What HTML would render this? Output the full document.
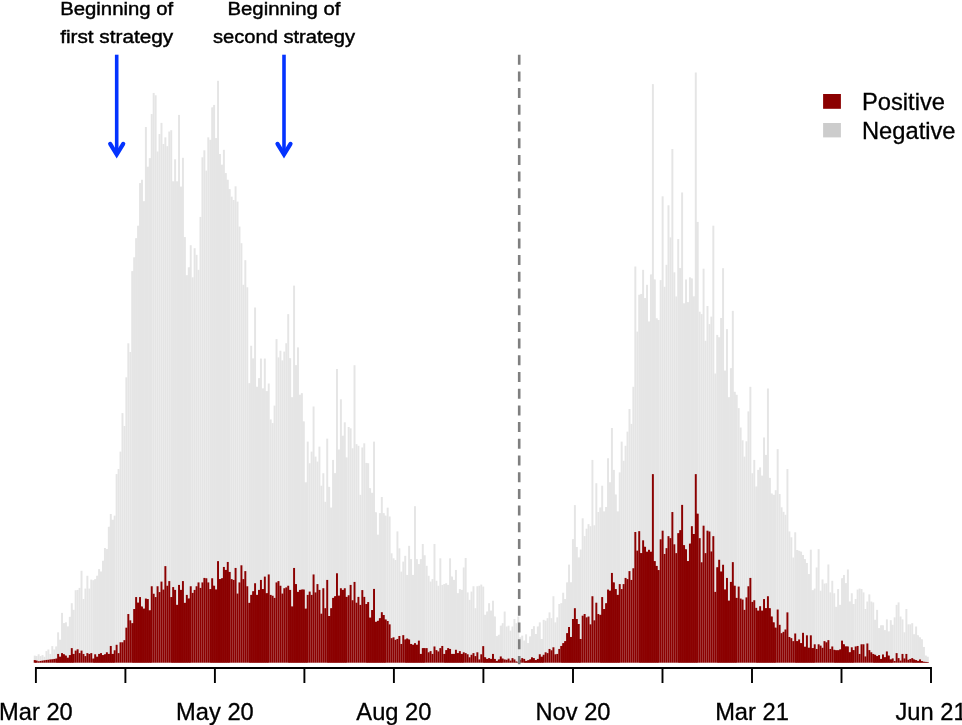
<!DOCTYPE html>
<html><head><meta charset="utf-8"><title>Positive and negative tests over time</title>
<style>
html,body{margin:0;padding:0;background:#fff;}
body{width:962px;height:725px;overflow:hidden;}
svg{display:block;}
text{font-family:"Liberation Sans",sans-serif;fill:#000;}
.ax{font-size:23.7px;stroke:#000;stroke-width:0.3px;}
.an{font-size:19.1px;stroke:#000;stroke-width:0.45px;}
</style></head><body>
<svg width="962" height="725" viewBox="0 0 962 725">
<rect width="962" height="725" fill="#fff"/>
<g fill="#e5e5e5" ><rect x="33.75" y="655.60" width="1.95" height="7.10"/><rect x="35.70" y="656.10" width="1.95" height="6.60"/><rect x="37.65" y="654.27" width="1.95" height="8.43"/><rect x="39.60" y="656.10" width="1.95" height="6.60"/><rect x="41.55" y="655.10" width="1.95" height="7.60"/><rect x="43.50" y="656.77" width="1.95" height="5.93"/><rect x="45.45" y="651.11" width="1.95" height="11.59"/><rect x="47.40" y="649.45" width="1.95" height="13.25"/><rect x="49.35" y="653.94" width="1.95" height="8.76"/><rect x="51.30" y="646.12" width="1.95" height="16.58"/><rect x="53.25" y="649.45" width="1.95" height="13.25"/><rect x="55.20" y="646.46" width="1.95" height="16.24"/><rect x="57.15" y="632.32" width="1.95" height="30.38"/><rect x="59.10" y="639.80" width="1.95" height="22.90"/><rect x="61.05" y="612.86" width="1.95" height="49.84"/><rect x="63.00" y="623.17" width="1.95" height="39.53"/><rect x="64.95" y="622.34" width="1.95" height="40.36"/><rect x="66.90" y="626.50" width="1.95" height="36.20"/><rect x="68.85" y="616.85" width="1.95" height="45.85"/><rect x="70.80" y="603.21" width="1.95" height="59.49"/><rect x="72.75" y="609.86" width="1.95" height="52.84"/><rect x="74.70" y="590.24" width="1.95" height="72.46"/><rect x="76.65" y="589.91" width="1.95" height="72.79"/><rect x="78.60" y="587.91" width="1.95" height="74.79"/><rect x="80.55" y="570.78" width="1.95" height="91.92"/><rect x="82.50" y="599.05" width="1.95" height="63.65"/><rect x="84.45" y="588.58" width="1.95" height="74.12"/><rect x="86.40" y="575.77" width="1.95" height="86.93"/><rect x="88.35" y="588.58" width="1.95" height="74.12"/><rect x="90.30" y="579.59" width="1.95" height="83.11"/><rect x="92.25" y="580.26" width="1.95" height="82.44"/><rect x="94.20" y="579.10" width="1.95" height="83.60"/><rect x="96.15" y="575.77" width="1.95" height="86.93"/><rect x="98.10" y="569.12" width="1.95" height="93.58"/><rect x="100.05" y="571.61" width="1.95" height="91.09"/><rect x="102.00" y="560.80" width="1.95" height="101.90"/><rect x="103.95" y="547.99" width="1.95" height="114.71"/><rect x="105.90" y="549.16" width="1.95" height="113.54"/><rect x="107.85" y="526.79" width="1.95" height="135.91"/><rect x="109.80" y="513.98" width="1.95" height="148.72"/><rect x="111.75" y="519.80" width="1.95" height="142.90"/><rect x="113.70" y="515.64" width="1.95" height="147.06"/><rect x="115.65" y="474.06" width="1.95" height="188.64"/><rect x="117.60" y="469.07" width="1.95" height="193.63"/><rect x="119.55" y="451.61" width="1.95" height="211.09"/><rect x="121.50" y="413.10" width="1.95" height="249.60"/><rect x="123.45" y="426.00" width="1.95" height="236.70"/><rect x="125.40" y="377.30" width="1.95" height="285.40"/><rect x="127.35" y="343.30" width="1.95" height="319.40"/><rect x="129.30" y="352.00" width="1.95" height="310.70"/><rect x="131.25" y="271.15" width="1.95" height="391.55"/><rect x="133.20" y="257.35" width="1.95" height="405.35"/><rect x="135.15" y="238.22" width="1.95" height="424.48"/><rect x="137.10" y="225.75" width="1.95" height="436.95"/><rect x="139.05" y="183.09" width="1.95" height="479.61"/><rect x="141.00" y="179.76" width="1.95" height="482.94"/><rect x="142.95" y="201.30" width="1.95" height="461.40"/><rect x="144.90" y="127.04" width="1.95" height="535.66"/><rect x="146.85" y="166.79" width="1.95" height="495.91"/><rect x="148.80" y="158.14" width="1.95" height="504.56"/><rect x="150.75" y="114.06" width="1.95" height="548.64"/><rect x="152.70" y="92.94" width="1.95" height="569.76"/><rect x="154.65" y="95.27" width="1.95" height="567.43"/><rect x="156.60" y="151.49" width="1.95" height="511.21"/><rect x="158.55" y="134.02" width="1.95" height="528.68"/><rect x="160.50" y="122.88" width="1.95" height="539.82"/><rect x="162.45" y="144.00" width="1.95" height="518.70"/><rect x="164.40" y="137.35" width="1.95" height="525.35"/><rect x="166.35" y="146.16" width="1.95" height="516.54"/><rect x="168.30" y="131.53" width="1.95" height="531.17"/><rect x="170.25" y="130.20" width="1.95" height="532.50"/><rect x="172.20" y="181.42" width="1.95" height="481.28"/><rect x="174.15" y="159.30" width="1.95" height="503.40"/><rect x="176.10" y="181.42" width="1.95" height="481.28"/><rect x="178.05" y="114.90" width="1.95" height="547.80"/><rect x="180.00" y="186.70" width="1.95" height="476.00"/><rect x="181.95" y="157.81" width="1.95" height="504.89"/><rect x="183.90" y="237.06" width="1.95" height="425.64"/><rect x="185.85" y="275.31" width="1.95" height="387.39"/><rect x="187.80" y="267.33" width="1.95" height="395.37"/><rect x="189.75" y="245.21" width="1.95" height="417.49"/><rect x="191.70" y="277.31" width="1.95" height="385.39"/><rect x="193.65" y="248.20" width="1.95" height="414.50"/><rect x="195.60" y="254.85" width="1.95" height="407.85"/><rect x="197.55" y="269.82" width="1.95" height="392.88"/><rect x="199.50" y="216.93" width="1.95" height="445.77"/><rect x="201.45" y="157.31" width="1.95" height="505.39"/><rect x="203.40" y="150.32" width="1.95" height="512.38"/><rect x="205.35" y="170.61" width="1.95" height="492.09"/><rect x="207.30" y="137.35" width="1.95" height="525.35"/><rect x="209.25" y="139.84" width="1.95" height="522.86"/><rect x="211.20" y="107.41" width="1.95" height="555.29"/><rect x="213.15" y="104.92" width="1.95" height="557.78"/><rect x="215.10" y="138.18" width="1.95" height="524.52"/><rect x="217.05" y="80.80" width="1.95" height="581.90"/><rect x="219.00" y="153.98" width="1.95" height="508.72"/><rect x="220.95" y="164.79" width="1.95" height="497.91"/><rect x="222.90" y="149.82" width="1.95" height="512.88"/><rect x="224.85" y="173.11" width="1.95" height="489.59"/><rect x="226.80" y="179.76" width="1.95" height="482.94"/><rect x="228.75" y="189.16" width="1.95" height="473.54"/><rect x="230.70" y="196.64" width="1.95" height="466.06"/><rect x="232.65" y="199.97" width="1.95" height="462.73"/><rect x="234.60" y="186.33" width="1.95" height="476.37"/><rect x="236.55" y="201.63" width="1.95" height="461.07"/><rect x="238.50" y="226.58" width="1.95" height="436.12"/><rect x="240.45" y="243.21" width="1.95" height="419.49"/><rect x="242.40" y="284.79" width="1.95" height="377.91"/><rect x="244.35" y="260.18" width="1.95" height="402.52"/><rect x="246.30" y="287.29" width="1.95" height="375.41"/><rect x="248.25" y="383.17" width="1.95" height="279.53"/><rect x="250.20" y="345.75" width="1.95" height="316.95"/><rect x="252.15" y="358.56" width="1.95" height="304.14"/><rect x="254.10" y="307.49" width="1.95" height="355.21"/><rect x="256.05" y="386.83" width="1.95" height="275.87"/><rect x="258.00" y="378.18" width="1.95" height="284.52"/><rect x="259.95" y="358.56" width="1.95" height="304.14"/><rect x="261.90" y="388.49" width="1.95" height="274.21"/><rect x="263.85" y="358.56" width="1.95" height="304.14"/><rect x="265.80" y="391.15" width="1.95" height="271.55"/><rect x="267.75" y="383.50" width="1.95" height="279.20"/><rect x="269.70" y="419.43" width="1.95" height="243.27"/><rect x="271.65" y="423.09" width="1.95" height="239.61"/><rect x="273.60" y="405.62" width="1.95" height="257.08"/><rect x="275.55" y="339.10" width="1.95" height="323.60"/><rect x="277.50" y="357.39" width="1.95" height="305.31"/><rect x="279.45" y="350.74" width="1.95" height="311.96"/><rect x="281.40" y="360.38" width="1.95" height="302.32"/><rect x="283.35" y="351.57" width="1.95" height="311.13"/><rect x="285.30" y="343.25" width="1.95" height="319.45"/><rect x="287.25" y="314.15" width="1.95" height="348.55"/><rect x="289.20" y="358.22" width="1.95" height="304.48"/><rect x="291.15" y="397.31" width="1.95" height="265.39"/><rect x="293.10" y="285.60" width="1.95" height="377.10"/><rect x="295.05" y="365.21" width="1.95" height="297.49"/><rect x="297.00" y="347.41" width="1.95" height="315.29"/><rect x="298.95" y="394.81" width="1.95" height="267.89"/><rect x="300.90" y="393.15" width="1.95" height="269.55"/><rect x="302.85" y="421.42" width="1.95" height="241.28"/><rect x="304.80" y="482.38" width="1.95" height="180.32"/><rect x="306.75" y="441.63" width="1.95" height="221.07"/><rect x="308.70" y="463.25" width="1.95" height="199.45"/><rect x="310.65" y="451.61" width="1.95" height="211.09"/><rect x="312.60" y="406.50" width="1.95" height="256.20"/><rect x="314.55" y="456.60" width="1.95" height="206.10"/><rect x="316.50" y="461.59" width="1.95" height="201.11"/><rect x="318.45" y="446.62" width="1.95" height="216.08"/><rect x="320.40" y="485.71" width="1.95" height="176.99"/><rect x="322.35" y="473.23" width="1.95" height="189.47"/><rect x="324.30" y="501.84" width="1.95" height="160.86"/><rect x="326.25" y="438.64" width="1.95" height="224.06"/><rect x="328.20" y="486.87" width="1.95" height="175.83"/><rect x="330.15" y="507.66" width="1.95" height="155.04"/><rect x="332.10" y="459.93" width="1.95" height="202.77"/><rect x="334.05" y="473.23" width="1.95" height="189.47"/><rect x="336.00" y="369.00" width="1.95" height="293.70"/><rect x="337.95" y="449.62" width="1.95" height="213.08"/><rect x="339.90" y="399.30" width="1.95" height="263.40"/><rect x="341.85" y="435.81" width="1.95" height="226.89"/><rect x="343.80" y="422.30" width="1.95" height="240.40"/><rect x="345.75" y="457.43" width="1.95" height="205.27"/><rect x="347.70" y="427.00" width="1.95" height="235.70"/><rect x="349.65" y="428.33" width="1.95" height="234.37"/><rect x="351.60" y="448.28" width="1.95" height="214.42"/><rect x="353.55" y="365.20" width="1.95" height="297.50"/><rect x="355.50" y="444.13" width="1.95" height="218.57"/><rect x="357.45" y="445.79" width="1.95" height="216.91"/><rect x="359.40" y="494.85" width="1.95" height="167.85"/><rect x="361.35" y="447.45" width="1.95" height="215.25"/><rect x="363.30" y="443.30" width="1.95" height="219.40"/><rect x="365.25" y="462.92" width="1.95" height="199.78"/><rect x="367.20" y="463.25" width="1.95" height="199.45"/><rect x="369.15" y="488.20" width="1.95" height="174.50"/><rect x="371.10" y="492.86" width="1.95" height="169.84"/><rect x="373.05" y="441.63" width="1.95" height="221.07"/><rect x="375.00" y="512.32" width="1.95" height="150.38"/><rect x="376.95" y="534.77" width="1.95" height="127.93"/><rect x="378.90" y="513.15" width="1.95" height="149.55"/><rect x="380.85" y="497.02" width="1.95" height="165.68"/><rect x="382.80" y="513.15" width="1.95" height="149.55"/><rect x="384.75" y="515.64" width="1.95" height="147.06"/><rect x="386.70" y="507.66" width="1.95" height="155.04"/><rect x="388.65" y="516.48" width="1.95" height="146.22"/><rect x="390.60" y="553.32" width="1.95" height="109.38"/><rect x="392.55" y="558.31" width="1.95" height="104.39"/><rect x="394.50" y="559.97" width="1.95" height="102.73"/><rect x="396.45" y="531.40" width="1.95" height="131.30"/><rect x="398.40" y="548.33" width="1.95" height="114.37"/><rect x="400.35" y="571.61" width="1.95" height="91.09"/><rect x="402.30" y="561.63" width="1.95" height="101.07"/><rect x="404.25" y="555.81" width="1.95" height="106.89"/><rect x="406.20" y="574.94" width="1.95" height="87.76"/><rect x="408.15" y="545.83" width="1.95" height="116.87"/><rect x="410.10" y="559.14" width="1.95" height="103.56"/><rect x="412.05" y="574.94" width="1.95" height="87.76"/><rect x="414.00" y="506.20" width="1.95" height="156.50"/><rect x="415.95" y="559.14" width="1.95" height="103.56"/><rect x="417.90" y="564.13" width="1.95" height="98.57"/><rect x="419.85" y="559.14" width="1.95" height="103.56"/><rect x="421.80" y="544.00" width="1.95" height="118.70"/><rect x="423.75" y="555.31" width="1.95" height="107.39"/><rect x="425.70" y="565.79" width="1.95" height="96.91"/><rect x="427.65" y="575.77" width="1.95" height="86.93"/><rect x="429.60" y="581.59" width="1.95" height="81.11"/><rect x="431.55" y="579.10" width="1.95" height="83.60"/><rect x="433.50" y="544.00" width="1.95" height="118.70"/><rect x="435.45" y="580.76" width="1.95" height="81.94"/><rect x="437.40" y="585.75" width="1.95" height="76.95"/><rect x="439.35" y="558.31" width="1.95" height="104.39"/><rect x="441.30" y="584.92" width="1.95" height="77.78"/><rect x="443.25" y="584.09" width="1.95" height="78.61"/><rect x="445.20" y="583.25" width="1.95" height="79.45"/><rect x="447.15" y="584.92" width="1.95" height="77.78"/><rect x="449.10" y="558.31" width="1.95" height="104.39"/><rect x="451.05" y="576.60" width="1.95" height="86.10"/><rect x="453.00" y="579.93" width="1.95" height="82.77"/><rect x="454.95" y="569.95" width="1.95" height="92.75"/><rect x="456.90" y="593.23" width="1.95" height="69.47"/><rect x="458.85" y="589.07" width="1.95" height="73.63"/><rect x="460.80" y="589.91" width="1.95" height="72.79"/><rect x="462.75" y="567.45" width="1.95" height="95.25"/><rect x="464.70" y="557.97" width="1.95" height="104.73"/><rect x="466.65" y="592.40" width="1.95" height="70.30"/><rect x="468.60" y="599.89" width="1.95" height="62.81"/><rect x="470.55" y="591.57" width="1.95" height="71.13"/><rect x="472.50" y="586.25" width="1.95" height="76.45"/><rect x="474.45" y="608.20" width="1.95" height="54.50"/><rect x="476.40" y="586.25" width="1.95" height="76.45"/><rect x="478.35" y="585.75" width="1.95" height="76.95"/><rect x="480.30" y="584.58" width="1.95" height="78.12"/><rect x="482.25" y="586.58" width="1.95" height="76.12"/><rect x="484.20" y="614.85" width="1.95" height="47.85"/><rect x="486.15" y="611.53" width="1.95" height="51.17"/><rect x="488.10" y="603.21" width="1.95" height="59.49"/><rect x="490.05" y="610.70" width="1.95" height="52.00"/><rect x="492.00" y="600.72" width="1.95" height="61.98"/><rect x="493.95" y="616.52" width="1.95" height="46.18"/><rect x="495.90" y="636.14" width="1.95" height="26.56"/><rect x="497.85" y="634.81" width="1.95" height="27.89"/><rect x="499.80" y="625.67" width="1.95" height="37.03"/><rect x="501.75" y="623.17" width="1.95" height="39.53"/><rect x="503.70" y="611.53" width="1.95" height="51.17"/><rect x="505.65" y="626.50" width="1.95" height="36.20"/><rect x="507.60" y="625.67" width="1.95" height="37.03"/><rect x="509.55" y="630.65" width="1.95" height="32.05"/><rect x="511.50" y="626.50" width="1.95" height="36.20"/><rect x="513.45" y="619.01" width="1.95" height="43.69"/><rect x="515.40" y="623.17" width="1.95" height="39.53"/><rect x="517.35" y="616.52" width="1.95" height="46.18"/><rect x="519.30" y="637.31" width="1.95" height="25.39"/><rect x="521.25" y="635.64" width="1.95" height="27.06"/><rect x="523.20" y="640.63" width="1.95" height="22.07"/><rect x="525.15" y="634.31" width="1.95" height="28.39"/><rect x="527.10" y="643.13" width="1.95" height="19.57"/><rect x="529.05" y="636.48" width="1.95" height="26.22"/><rect x="531.00" y="628.99" width="1.95" height="33.71"/><rect x="532.95" y="626.16" width="1.95" height="36.54"/><rect x="534.90" y="633.98" width="1.95" height="28.72"/><rect x="536.85" y="626.50" width="1.95" height="36.20"/><rect x="538.80" y="622.34" width="1.95" height="40.36"/><rect x="540.75" y="638.97" width="1.95" height="23.73"/><rect x="542.70" y="619.84" width="1.95" height="42.86"/><rect x="544.65" y="620.68" width="1.95" height="42.02"/><rect x="546.60" y="618.18" width="1.95" height="44.52"/><rect x="548.55" y="612.36" width="1.95" height="50.34"/><rect x="550.50" y="618.18" width="1.95" height="44.52"/><rect x="552.45" y="596.23" width="1.95" height="66.47"/><rect x="554.40" y="622.34" width="1.95" height="40.36"/><rect x="556.35" y="617.35" width="1.95" height="45.35"/><rect x="558.30" y="604.04" width="1.95" height="58.66"/><rect x="560.25" y="603.21" width="1.95" height="59.49"/><rect x="562.20" y="592.73" width="1.95" height="69.97"/><rect x="564.15" y="599.05" width="1.95" height="63.65"/><rect x="566.10" y="582.42" width="1.95" height="80.28"/><rect x="568.05" y="564.63" width="1.95" height="98.07"/><rect x="570.00" y="582.42" width="1.95" height="80.28"/><rect x="571.95" y="539.20" width="1.95" height="123.50"/><rect x="573.90" y="505.10" width="1.95" height="157.60"/><rect x="575.85" y="547.00" width="1.95" height="115.70"/><rect x="577.80" y="557.50" width="1.95" height="105.20"/><rect x="579.75" y="549.50" width="1.95" height="113.20"/><rect x="581.70" y="518.31" width="1.95" height="144.39"/><rect x="583.65" y="536.10" width="1.95" height="126.60"/><rect x="585.60" y="528.70" width="1.95" height="134.00"/><rect x="587.55" y="524.13" width="1.95" height="138.57"/><rect x="589.50" y="526.21" width="1.95" height="136.49"/><rect x="591.45" y="459.93" width="1.95" height="202.77"/><rect x="593.40" y="525.29" width="1.95" height="137.41"/><rect x="595.35" y="483.21" width="1.95" height="179.49"/><rect x="597.30" y="511.99" width="1.95" height="150.71"/><rect x="599.25" y="507.49" width="1.95" height="155.21"/><rect x="601.20" y="485.71" width="1.95" height="176.99"/><rect x="603.15" y="511.49" width="1.95" height="151.21"/><rect x="605.10" y="507.00" width="1.95" height="155.70"/><rect x="607.05" y="458.26" width="1.95" height="204.44"/><rect x="609.00" y="482.38" width="1.95" height="180.32"/><rect x="610.95" y="427.99" width="1.95" height="234.71"/><rect x="612.90" y="469.91" width="1.95" height="192.79"/><rect x="614.85" y="494.52" width="1.95" height="168.18"/><rect x="616.80" y="511.49" width="1.95" height="151.21"/><rect x="618.75" y="472.40" width="1.95" height="190.30"/><rect x="620.70" y="441.63" width="1.95" height="221.07"/><rect x="622.65" y="460.76" width="1.95" height="201.94"/><rect x="624.60" y="445.79" width="1.95" height="216.91"/><rect x="626.55" y="431.65" width="1.95" height="231.05"/><rect x="628.50" y="409.00" width="1.95" height="253.70"/><rect x="630.45" y="423.90" width="1.95" height="238.80"/><rect x="632.40" y="386.80" width="1.95" height="275.90"/><rect x="634.35" y="266.50" width="1.95" height="396.20"/><rect x="636.30" y="331.60" width="1.95" height="331.10"/><rect x="638.25" y="294.77" width="1.95" height="367.93"/><rect x="640.20" y="293.94" width="1.95" height="368.76"/><rect x="642.15" y="269.82" width="1.95" height="392.88"/><rect x="644.10" y="298.10" width="1.95" height="364.60"/><rect x="646.05" y="284.79" width="1.95" height="377.91"/><rect x="648.00" y="321.60" width="1.95" height="341.10"/><rect x="649.95" y="274.48" width="1.95" height="388.22"/><rect x="651.90" y="84.10" width="1.95" height="578.60"/><rect x="653.85" y="279.47" width="1.95" height="383.23"/><rect x="655.80" y="318.30" width="1.95" height="344.40"/><rect x="657.75" y="320.00" width="1.95" height="342.70"/><rect x="659.70" y="280.14" width="1.95" height="382.56"/><rect x="661.65" y="196.31" width="1.95" height="466.39"/><rect x="663.60" y="286.79" width="1.95" height="375.91"/><rect x="665.55" y="264.83" width="1.95" height="397.87"/><rect x="667.50" y="205.29" width="1.95" height="457.41"/><rect x="669.45" y="237.39" width="1.95" height="425.31"/><rect x="671.40" y="149.00" width="1.95" height="513.70"/><rect x="673.35" y="272.32" width="1.95" height="390.38"/><rect x="675.30" y="296.43" width="1.95" height="366.27"/><rect x="677.25" y="239.05" width="1.95" height="423.65"/><rect x="679.20" y="268.16" width="1.95" height="394.54"/><rect x="681.15" y="192.48" width="1.95" height="470.22"/><rect x="683.10" y="303.42" width="1.95" height="359.28"/><rect x="685.05" y="279.47" width="1.95" height="383.23"/><rect x="687.00" y="302.26" width="1.95" height="360.44"/><rect x="688.95" y="277.31" width="1.95" height="385.39"/><rect x="690.90" y="278.47" width="1.95" height="384.23"/><rect x="692.85" y="296.43" width="1.95" height="366.27"/><rect x="694.80" y="72.50" width="1.95" height="590.20"/><rect x="696.75" y="221.92" width="1.95" height="440.78"/><rect x="698.70" y="311.70" width="1.95" height="351.00"/><rect x="700.65" y="314.10" width="1.95" height="348.60"/><rect x="702.60" y="268.70" width="1.95" height="394.00"/><rect x="704.55" y="340.80" width="1.95" height="321.90"/><rect x="706.50" y="306.00" width="1.95" height="356.70"/><rect x="708.45" y="324.10" width="1.95" height="338.60"/><rect x="710.40" y="316.60" width="1.95" height="346.10"/><rect x="712.35" y="225.70" width="1.95" height="437.00"/><rect x="714.30" y="373.50" width="1.95" height="289.20"/><rect x="716.25" y="334.90" width="1.95" height="327.80"/><rect x="718.20" y="337.40" width="1.95" height="325.30"/><rect x="720.15" y="318.00" width="1.95" height="344.70"/><rect x="722.10" y="268.20" width="1.95" height="394.50"/><rect x="724.05" y="370.70" width="1.95" height="292.00"/><rect x="726.00" y="329.12" width="1.95" height="333.58"/><rect x="727.95" y="397.31" width="1.95" height="265.39"/><rect x="729.90" y="368.20" width="1.95" height="294.50"/><rect x="731.85" y="310.82" width="1.95" height="351.88"/><rect x="733.80" y="391.82" width="1.95" height="270.88"/><rect x="735.75" y="394.81" width="1.95" height="267.89"/><rect x="737.70" y="408.12" width="1.95" height="254.58"/><rect x="739.65" y="427.49" width="1.95" height="235.21"/><rect x="741.60" y="440.30" width="1.95" height="222.40"/><rect x="743.55" y="456.60" width="1.95" height="206.10"/><rect x="745.50" y="441.30" width="1.95" height="221.40"/><rect x="747.45" y="411.40" width="1.95" height="251.30"/><rect x="749.40" y="386.80" width="1.95" height="275.90"/><rect x="751.35" y="473.23" width="1.95" height="189.47"/><rect x="753.30" y="459.93" width="1.95" height="202.77"/><rect x="755.25" y="486.54" width="1.95" height="176.16"/><rect x="757.20" y="469.91" width="1.95" height="192.79"/><rect x="759.15" y="467.41" width="1.95" height="195.29"/><rect x="761.10" y="475.73" width="1.95" height="186.97"/><rect x="763.05" y="437.47" width="1.95" height="225.23"/><rect x="765.00" y="454.94" width="1.95" height="207.76"/><rect x="766.95" y="388.50" width="1.95" height="274.20"/><rect x="768.90" y="477.89" width="1.95" height="184.81"/><rect x="770.85" y="493.52" width="1.95" height="169.18"/><rect x="772.80" y="494.85" width="1.95" height="167.85"/><rect x="774.75" y="490.20" width="1.95" height="172.50"/><rect x="776.70" y="449.12" width="1.95" height="213.58"/><rect x="778.65" y="494.02" width="1.95" height="168.68"/><rect x="780.60" y="507.33" width="1.95" height="155.37"/><rect x="782.55" y="511.82" width="1.95" height="150.88"/><rect x="784.50" y="514.81" width="1.95" height="147.89"/><rect x="786.45" y="469.07" width="1.95" height="193.63"/><rect x="788.40" y="531.44" width="1.95" height="131.26"/><rect x="790.35" y="537.27" width="1.95" height="125.43"/><rect x="792.30" y="557.50" width="1.95" height="105.20"/><rect x="794.25" y="532.28" width="1.95" height="130.42"/><rect x="796.20" y="550.00" width="1.95" height="112.70"/><rect x="798.15" y="550.80" width="1.95" height="111.90"/><rect x="800.10" y="551.65" width="1.95" height="111.05"/><rect x="802.05" y="554.98" width="1.95" height="107.72"/><rect x="804.00" y="559.14" width="1.95" height="103.56"/><rect x="805.95" y="562.96" width="1.95" height="99.74"/><rect x="807.90" y="574.11" width="1.95" height="88.59"/><rect x="809.85" y="549.66" width="1.95" height="113.04"/><rect x="811.80" y="590.24" width="1.95" height="72.46"/><rect x="813.75" y="588.58" width="1.95" height="74.12"/><rect x="815.70" y="567.45" width="1.95" height="95.25"/><rect x="817.65" y="549.16" width="1.95" height="113.54"/><rect x="819.60" y="590.74" width="1.95" height="71.96"/><rect x="821.55" y="579.43" width="1.95" height="83.27"/><rect x="823.50" y="583.59" width="1.95" height="79.11"/><rect x="825.45" y="583.25" width="1.95" height="79.45"/><rect x="827.40" y="564.46" width="1.95" height="98.24"/><rect x="829.35" y="592.40" width="1.95" height="70.30"/><rect x="831.30" y="580.76" width="1.95" height="81.94"/><rect x="833.25" y="593.23" width="1.95" height="69.47"/><rect x="835.20" y="606.87" width="1.95" height="55.83"/><rect x="837.15" y="589.07" width="1.95" height="73.63"/><rect x="839.10" y="604.88" width="1.95" height="57.82"/><rect x="841.05" y="578.26" width="1.95" height="84.44"/><rect x="843.00" y="574.94" width="1.95" height="87.76"/><rect x="844.95" y="583.25" width="1.95" height="79.45"/><rect x="846.90" y="569.45" width="1.95" height="93.25"/><rect x="848.85" y="601.55" width="1.95" height="61.15"/><rect x="850.80" y="593.23" width="1.95" height="69.47"/><rect x="852.75" y="604.04" width="1.95" height="58.66"/><rect x="854.70" y="599.05" width="1.95" height="63.65"/><rect x="856.65" y="589.57" width="1.95" height="73.13"/><rect x="858.60" y="588.58" width="1.95" height="74.12"/><rect x="860.55" y="589.07" width="1.95" height="73.63"/><rect x="862.50" y="592.40" width="1.95" height="70.30"/><rect x="864.45" y="609.03" width="1.95" height="53.67"/><rect x="866.40" y="601.55" width="1.95" height="61.15"/><rect x="868.35" y="594.40" width="1.95" height="68.30"/><rect x="870.30" y="601.55" width="1.95" height="61.15"/><rect x="872.25" y="602.38" width="1.95" height="60.32"/><rect x="874.20" y="619.84" width="1.95" height="42.86"/><rect x="876.15" y="609.86" width="1.95" height="52.84"/><rect x="878.10" y="628.16" width="1.95" height="34.54"/><rect x="880.05" y="625.33" width="1.95" height="37.37"/><rect x="882.00" y="625.33" width="1.95" height="37.37"/><rect x="883.95" y="630.16" width="1.95" height="32.54"/><rect x="885.90" y="619.35" width="1.95" height="43.35"/><rect x="887.85" y="631.49" width="1.95" height="31.21"/><rect x="889.80" y="620.18" width="1.95" height="42.52"/><rect x="891.75" y="624.83" width="1.95" height="37.87"/><rect x="893.70" y="617.35" width="1.95" height="45.35"/><rect x="895.65" y="604.88" width="1.95" height="57.82"/><rect x="897.60" y="602.38" width="1.95" height="60.32"/><rect x="899.55" y="616.52" width="1.95" height="46.18"/><rect x="901.50" y="619.35" width="1.95" height="43.35"/><rect x="903.45" y="632.32" width="1.95" height="30.38"/><rect x="905.40" y="609.03" width="1.95" height="53.67"/><rect x="907.35" y="624.33" width="1.95" height="38.37"/><rect x="909.30" y="624.33" width="1.95" height="38.37"/><rect x="911.25" y="623.17" width="1.95" height="39.53"/><rect x="913.20" y="634.31" width="1.95" height="28.39"/><rect x="915.15" y="626.50" width="1.95" height="36.20"/><rect x="917.10" y="635.31" width="1.95" height="27.39"/><rect x="919.05" y="637.31" width="1.95" height="25.39"/><rect x="921.00" y="639.30" width="1.95" height="23.40"/><rect x="922.95" y="646.95" width="1.95" height="15.75"/><rect x="924.90" y="655.60" width="1.95" height="7.10"/><rect x="926.85" y="656.77" width="1.95" height="5.93"/><rect x="35.10" y="656.10" width="1.2" height="6.60"/><rect x="56.55" y="646.46" width="1.2" height="16.24"/><rect x="58.50" y="639.80" width="1.2" height="22.90"/><rect x="60.45" y="639.80" width="1.2" height="22.90"/><rect x="62.40" y="623.17" width="1.2" height="39.53"/><rect x="64.35" y="623.17" width="1.2" height="39.53"/><rect x="66.30" y="626.50" width="1.2" height="36.20"/><rect x="68.25" y="626.50" width="1.2" height="36.20"/><rect x="70.20" y="616.85" width="1.2" height="45.85"/><rect x="72.15" y="609.86" width="1.2" height="52.84"/><rect x="93.60" y="580.26" width="1.2" height="82.44"/><rect x="95.55" y="579.10" width="1.2" height="83.60"/><rect x="97.50" y="575.77" width="1.2" height="86.93"/><rect x="99.45" y="571.61" width="1.2" height="91.09"/><rect x="101.40" y="571.61" width="1.2" height="91.09"/><rect x="103.35" y="560.80" width="1.2" height="101.90"/><rect x="105.30" y="549.16" width="1.2" height="113.54"/><rect x="107.25" y="549.16" width="1.2" height="113.54"/><rect x="109.20" y="526.79" width="1.2" height="135.91"/><rect x="111.15" y="519.80" width="1.2" height="142.90"/><rect x="113.10" y="519.80" width="1.2" height="142.90"/><rect x="132.60" y="271.15" width="1.2" height="391.55"/><rect x="134.55" y="257.35" width="1.2" height="405.35"/><rect x="136.50" y="238.22" width="1.2" height="424.48"/><rect x="138.45" y="225.75" width="1.2" height="436.95"/><rect x="140.40" y="183.09" width="1.2" height="479.61"/><rect x="142.35" y="201.30" width="1.2" height="461.40"/><rect x="144.30" y="201.30" width="1.2" height="461.40"/><rect x="146.25" y="166.79" width="1.2" height="495.91"/><rect x="148.20" y="166.79" width="1.2" height="495.91"/><rect x="150.15" y="158.14" width="1.2" height="504.56"/><rect x="171.60" y="181.42" width="1.2" height="481.28"/><rect x="173.55" y="181.42" width="1.2" height="481.28"/><rect x="175.50" y="181.42" width="1.2" height="481.28"/><rect x="177.45" y="181.42" width="1.2" height="481.28"/><rect x="179.40" y="186.70" width="1.2" height="476.00"/><rect x="181.35" y="186.70" width="1.2" height="476.00"/><rect x="183.30" y="237.06" width="1.2" height="425.64"/><rect x="185.25" y="275.31" width="1.2" height="387.39"/><rect x="187.20" y="275.31" width="1.2" height="387.39"/><rect x="189.15" y="267.33" width="1.2" height="395.37"/><rect x="210.60" y="139.84" width="1.2" height="522.86"/><rect x="212.55" y="107.41" width="1.2" height="555.29"/><rect x="214.50" y="138.18" width="1.2" height="524.52"/><rect x="216.45" y="138.18" width="1.2" height="524.52"/><rect x="218.40" y="153.98" width="1.2" height="508.72"/><rect x="220.35" y="164.79" width="1.2" height="497.91"/><rect x="222.30" y="164.79" width="1.2" height="497.91"/><rect x="224.25" y="173.11" width="1.2" height="489.59"/><rect x="226.20" y="179.76" width="1.2" height="482.94"/><rect x="228.15" y="189.16" width="1.2" height="473.54"/><rect x="249.60" y="383.17" width="1.2" height="279.53"/><rect x="251.55" y="358.56" width="1.2" height="304.14"/><rect x="253.50" y="358.56" width="1.2" height="304.14"/><rect x="255.45" y="386.83" width="1.2" height="275.87"/><rect x="257.40" y="386.83" width="1.2" height="275.87"/><rect x="259.35" y="378.18" width="1.2" height="284.52"/><rect x="261.30" y="388.49" width="1.2" height="274.21"/><rect x="263.25" y="388.49" width="1.2" height="274.21"/><rect x="265.20" y="391.15" width="1.2" height="271.55"/><rect x="267.15" y="391.15" width="1.2" height="271.55"/><rect x="288.60" y="358.22" width="1.2" height="304.48"/><rect x="290.55" y="397.31" width="1.2" height="265.39"/><rect x="292.50" y="397.31" width="1.2" height="265.39"/><rect x="294.45" y="365.21" width="1.2" height="297.49"/><rect x="296.40" y="365.21" width="1.2" height="297.49"/><rect x="298.35" y="394.81" width="1.2" height="267.89"/><rect x="300.30" y="394.81" width="1.2" height="267.89"/><rect x="302.25" y="421.42" width="1.2" height="241.28"/><rect x="304.20" y="482.38" width="1.2" height="180.32"/><rect x="306.15" y="482.38" width="1.2" height="180.32"/><rect x="327.60" y="486.87" width="1.2" height="175.83"/><rect x="329.55" y="507.66" width="1.2" height="155.04"/><rect x="331.50" y="507.66" width="1.2" height="155.04"/><rect x="333.45" y="473.23" width="1.2" height="189.47"/><rect x="335.40" y="473.23" width="1.2" height="189.47"/><rect x="337.35" y="449.62" width="1.2" height="213.08"/><rect x="339.30" y="449.62" width="1.2" height="213.08"/><rect x="341.25" y="435.81" width="1.2" height="226.89"/><rect x="343.20" y="435.81" width="1.2" height="226.89"/><rect x="345.15" y="457.43" width="1.2" height="205.27"/><rect x="366.60" y="463.25" width="1.2" height="199.45"/><rect x="368.55" y="488.20" width="1.2" height="174.50"/><rect x="370.50" y="492.86" width="1.2" height="169.84"/><rect x="372.45" y="492.86" width="1.2" height="169.84"/><rect x="374.40" y="512.32" width="1.2" height="150.38"/><rect x="376.35" y="534.77" width="1.2" height="127.93"/><rect x="378.30" y="534.77" width="1.2" height="127.93"/><rect x="380.25" y="513.15" width="1.2" height="149.55"/><rect x="382.20" y="513.15" width="1.2" height="149.55"/><rect x="384.15" y="515.64" width="1.2" height="147.06"/><rect x="405.60" y="574.94" width="1.2" height="87.76"/><rect x="407.55" y="574.94" width="1.2" height="87.76"/><rect x="409.50" y="559.14" width="1.2" height="103.56"/><rect x="411.45" y="574.94" width="1.2" height="87.76"/><rect x="413.40" y="574.94" width="1.2" height="87.76"/><rect x="415.35" y="559.14" width="1.2" height="103.56"/><rect x="417.30" y="564.13" width="1.2" height="98.57"/><rect x="419.25" y="564.13" width="1.2" height="98.57"/><rect x="421.20" y="559.14" width="1.2" height="103.56"/><rect x="423.15" y="555.31" width="1.2" height="107.39"/><rect x="444.60" y="584.09" width="1.2" height="78.61"/><rect x="446.55" y="584.92" width="1.2" height="77.78"/><rect x="448.50" y="584.92" width="1.2" height="77.78"/><rect x="450.45" y="576.60" width="1.2" height="86.10"/><rect x="452.40" y="579.93" width="1.2" height="82.77"/><rect x="454.35" y="579.93" width="1.2" height="82.77"/><rect x="456.30" y="593.23" width="1.2" height="69.47"/><rect x="458.25" y="593.23" width="1.2" height="69.47"/><rect x="460.20" y="589.91" width="1.2" height="72.79"/><rect x="462.15" y="589.91" width="1.2" height="72.79"/><rect x="483.60" y="614.85" width="1.2" height="47.85"/><rect x="485.55" y="614.85" width="1.2" height="47.85"/><rect x="487.50" y="611.53" width="1.2" height="51.17"/><rect x="489.45" y="610.70" width="1.2" height="52.00"/><rect x="491.40" y="610.70" width="1.2" height="52.00"/><rect x="493.35" y="616.52" width="1.2" height="46.18"/><rect x="495.30" y="636.14" width="1.2" height="26.56"/><rect x="497.25" y="636.14" width="1.2" height="26.56"/><rect x="499.20" y="634.81" width="1.2" height="27.89"/><rect x="501.15" y="625.67" width="1.2" height="37.03"/><rect x="524.55" y="640.63" width="1.2" height="22.07"/><rect x="526.50" y="643.13" width="1.2" height="19.57"/><rect x="528.45" y="643.13" width="1.2" height="19.57"/><rect x="530.40" y="636.48" width="1.2" height="26.22"/><rect x="532.35" y="628.99" width="1.2" height="33.71"/><rect x="534.30" y="633.98" width="1.2" height="28.72"/><rect x="536.25" y="633.98" width="1.2" height="28.72"/><rect x="538.20" y="626.50" width="1.2" height="36.20"/><rect x="540.15" y="638.97" width="1.2" height="23.73"/><rect x="542.10" y="638.97" width="1.2" height="23.73"/><rect x="561.60" y="603.21" width="1.2" height="59.49"/><rect x="563.55" y="599.05" width="1.2" height="63.65"/><rect x="565.50" y="599.05" width="1.2" height="63.65"/><rect x="567.45" y="582.42" width="1.2" height="80.28"/><rect x="569.40" y="582.42" width="1.2" height="80.28"/><rect x="571.35" y="582.42" width="1.2" height="80.28"/><rect x="573.30" y="539.20" width="1.2" height="123.50"/><rect x="575.25" y="547.00" width="1.2" height="115.70"/><rect x="577.20" y="557.50" width="1.2" height="105.20"/><rect x="579.15" y="557.50" width="1.2" height="105.20"/><rect x="600.60" y="507.49" width="1.2" height="155.21"/><rect x="602.55" y="511.49" width="1.2" height="151.21"/><rect x="604.50" y="511.49" width="1.2" height="151.21"/><rect x="606.45" y="507.00" width="1.2" height="155.70"/><rect x="608.40" y="482.38" width="1.2" height="180.32"/><rect x="610.35" y="482.38" width="1.2" height="180.32"/><rect x="612.30" y="469.91" width="1.2" height="192.79"/><rect x="614.25" y="494.52" width="1.2" height="168.18"/><rect x="616.20" y="511.49" width="1.2" height="151.21"/><rect x="618.15" y="511.49" width="1.2" height="151.21"/><rect x="639.60" y="294.77" width="1.2" height="367.93"/><rect x="641.55" y="293.94" width="1.2" height="368.76"/><rect x="643.50" y="298.10" width="1.2" height="364.60"/><rect x="645.45" y="298.10" width="1.2" height="364.60"/><rect x="647.40" y="321.60" width="1.2" height="341.10"/><rect x="649.35" y="321.60" width="1.2" height="341.10"/><rect x="651.30" y="274.48" width="1.2" height="388.22"/><rect x="653.25" y="279.47" width="1.2" height="383.23"/><rect x="655.20" y="318.30" width="1.2" height="344.40"/><rect x="657.15" y="320.00" width="1.2" height="342.70"/><rect x="678.60" y="268.16" width="1.2" height="394.54"/><rect x="680.55" y="268.16" width="1.2" height="394.54"/><rect x="682.50" y="303.42" width="1.2" height="359.28"/><rect x="684.45" y="303.42" width="1.2" height="359.28"/><rect x="686.40" y="302.26" width="1.2" height="360.44"/><rect x="688.35" y="302.26" width="1.2" height="360.44"/><rect x="690.30" y="278.47" width="1.2" height="384.23"/><rect x="692.25" y="296.43" width="1.2" height="366.27"/><rect x="694.20" y="296.43" width="1.2" height="366.27"/><rect x="696.15" y="221.92" width="1.2" height="440.78"/><rect x="717.60" y="337.40" width="1.2" height="325.30"/><rect x="719.55" y="337.40" width="1.2" height="325.30"/><rect x="721.50" y="318.00" width="1.2" height="344.70"/><rect x="723.45" y="370.70" width="1.2" height="292.00"/><rect x="725.40" y="370.70" width="1.2" height="292.00"/><rect x="727.35" y="397.31" width="1.2" height="265.39"/><rect x="729.30" y="397.31" width="1.2" height="265.39"/><rect x="731.25" y="368.20" width="1.2" height="294.50"/><rect x="733.20" y="391.82" width="1.2" height="270.88"/><rect x="735.15" y="394.81" width="1.2" height="267.89"/><rect x="756.60" y="486.54" width="1.2" height="176.16"/><rect x="758.55" y="469.91" width="1.2" height="192.79"/><rect x="760.50" y="475.73" width="1.2" height="186.97"/><rect x="762.45" y="475.73" width="1.2" height="186.97"/><rect x="764.40" y="454.94" width="1.2" height="207.76"/><rect x="766.35" y="454.94" width="1.2" height="207.76"/><rect x="768.30" y="477.89" width="1.2" height="184.81"/><rect x="770.25" y="493.52" width="1.2" height="169.18"/><rect x="772.20" y="494.85" width="1.2" height="167.85"/><rect x="774.15" y="494.85" width="1.2" height="167.85"/><rect x="795.60" y="550.00" width="1.2" height="112.70"/><rect x="797.55" y="550.80" width="1.2" height="111.90"/><rect x="799.50" y="551.65" width="1.2" height="111.05"/><rect x="801.45" y="554.98" width="1.2" height="107.72"/><rect x="803.40" y="559.14" width="1.2" height="103.56"/><rect x="805.35" y="562.96" width="1.2" height="99.74"/><rect x="807.30" y="574.11" width="1.2" height="88.59"/><rect x="809.25" y="574.11" width="1.2" height="88.59"/><rect x="811.20" y="590.24" width="1.2" height="72.46"/><rect x="813.15" y="590.24" width="1.2" height="72.46"/><rect x="834.60" y="606.87" width="1.2" height="55.83"/><rect x="836.55" y="606.87" width="1.2" height="55.83"/><rect x="838.50" y="604.88" width="1.2" height="57.82"/><rect x="840.45" y="604.88" width="1.2" height="57.82"/><rect x="842.40" y="578.26" width="1.2" height="84.44"/><rect x="844.35" y="583.25" width="1.2" height="79.45"/><rect x="846.30" y="583.25" width="1.2" height="79.45"/><rect x="848.25" y="601.55" width="1.2" height="61.15"/><rect x="850.20" y="601.55" width="1.2" height="61.15"/><rect x="852.15" y="604.04" width="1.2" height="58.66"/><rect x="873.60" y="619.84" width="1.2" height="42.86"/><rect x="875.55" y="619.84" width="1.2" height="42.86"/><rect x="877.50" y="628.16" width="1.2" height="34.54"/><rect x="879.45" y="628.16" width="1.2" height="34.54"/><rect x="881.40" y="625.33" width="1.2" height="37.37"/><rect x="883.35" y="630.16" width="1.2" height="32.54"/><rect x="885.30" y="630.16" width="1.2" height="32.54"/><rect x="887.25" y="631.49" width="1.2" height="31.21"/><rect x="889.20" y="631.49" width="1.2" height="31.21"/><rect x="891.15" y="624.83" width="1.2" height="37.87"/><rect x="912.60" y="634.31" width="1.2" height="28.39"/><rect x="914.55" y="634.31" width="1.2" height="28.39"/><rect x="916.50" y="635.31" width="1.2" height="27.39"/><rect x="918.45" y="637.31" width="1.2" height="25.39"/><rect x="920.40" y="639.30" width="1.2" height="23.40"/><rect x="922.35" y="646.95" width="1.2" height="15.75"/><rect x="924.30" y="655.60" width="1.2" height="7.10"/><rect x="926.25" y="656.77" width="1.2" height="5.93"/></g>
<g fill="#8b0000" ><rect x="33.75" y="660.09" width="1.95" height="2.61"/><rect x="35.70" y="660.59" width="1.95" height="2.11"/><rect x="37.65" y="661.26" width="1.95" height="1.44"/><rect x="39.60" y="660.93" width="1.95" height="1.77"/><rect x="41.55" y="660.59" width="1.95" height="2.11"/><rect x="43.50" y="660.26" width="1.95" height="2.44"/><rect x="45.45" y="659.93" width="1.95" height="2.77"/><rect x="47.40" y="659.76" width="1.95" height="2.94"/><rect x="49.35" y="659.43" width="1.95" height="3.27"/><rect x="51.30" y="659.26" width="1.95" height="3.44"/><rect x="53.25" y="658.93" width="1.95" height="3.77"/><rect x="55.20" y="658.60" width="1.95" height="4.10"/><rect x="57.15" y="653.94" width="1.95" height="8.76"/><rect x="59.10" y="656.77" width="1.95" height="5.93"/><rect x="61.05" y="653.11" width="1.95" height="9.59"/><rect x="63.00" y="654.27" width="1.95" height="8.43"/><rect x="64.95" y="655.60" width="1.95" height="7.10"/><rect x="66.90" y="657.77" width="1.95" height="4.93"/><rect x="68.85" y="655.10" width="1.95" height="7.60"/><rect x="70.80" y="648.12" width="1.95" height="14.58"/><rect x="72.75" y="653.94" width="1.95" height="8.76"/><rect x="74.70" y="650.61" width="1.95" height="12.09"/><rect x="76.65" y="649.28" width="1.95" height="13.42"/><rect x="78.60" y="653.11" width="1.95" height="9.59"/><rect x="80.55" y="650.61" width="1.95" height="12.09"/><rect x="82.50" y="653.94" width="1.95" height="8.76"/><rect x="84.45" y="656.10" width="1.95" height="6.60"/><rect x="86.40" y="653.11" width="1.95" height="9.59"/><rect x="88.35" y="653.94" width="1.95" height="8.76"/><rect x="90.30" y="653.11" width="1.95" height="9.59"/><rect x="92.25" y="658.60" width="1.95" height="4.10"/><rect x="94.20" y="654.27" width="1.95" height="8.43"/><rect x="96.15" y="656.77" width="1.95" height="5.93"/><rect x="98.10" y="653.94" width="1.95" height="8.76"/><rect x="100.05" y="653.11" width="1.95" height="9.59"/><rect x="102.00" y="655.10" width="1.95" height="7.60"/><rect x="103.95" y="654.27" width="1.95" height="8.43"/><rect x="105.90" y="652.28" width="1.95" height="10.42"/><rect x="107.85" y="653.94" width="1.95" height="8.76"/><rect x="109.80" y="645.96" width="1.95" height="16.74"/><rect x="111.75" y="653.94" width="1.95" height="8.76"/><rect x="113.70" y="650.28" width="1.95" height="12.42"/><rect x="115.65" y="644.79" width="1.95" height="17.91"/><rect x="117.60" y="653.11" width="1.95" height="9.59"/><rect x="119.55" y="642.30" width="1.95" height="20.40"/><rect x="121.50" y="642.30" width="1.95" height="20.40"/><rect x="123.45" y="640.14" width="1.95" height="22.56"/><rect x="125.40" y="627.66" width="1.95" height="35.04"/><rect x="127.35" y="614.02" width="1.95" height="48.68"/><rect x="129.30" y="620.34" width="1.95" height="42.36"/><rect x="131.25" y="623.17" width="1.95" height="39.53"/><rect x="133.20" y="609.03" width="1.95" height="53.67"/><rect x="135.15" y="597.06" width="1.95" height="65.64"/><rect x="137.10" y="602.71" width="1.95" height="59.99"/><rect x="139.05" y="597.06" width="1.95" height="65.64"/><rect x="141.00" y="606.54" width="1.95" height="56.16"/><rect x="142.95" y="608.70" width="1.95" height="54.00"/><rect x="144.90" y="598.56" width="1.95" height="64.14"/><rect x="146.85" y="599.05" width="1.95" height="63.65"/><rect x="148.80" y="610.36" width="1.95" height="52.34"/><rect x="150.75" y="586.25" width="1.95" height="76.45"/><rect x="152.70" y="593.73" width="1.95" height="68.97"/><rect x="154.65" y="597.06" width="1.95" height="65.64"/><rect x="156.60" y="586.25" width="1.95" height="76.45"/><rect x="158.55" y="592.07" width="1.95" height="70.63"/><rect x="160.50" y="581.59" width="1.95" height="81.11"/><rect x="162.45" y="589.57" width="1.95" height="73.13"/><rect x="164.40" y="566.12" width="1.95" height="96.58"/><rect x="166.35" y="585.75" width="1.95" height="76.95"/><rect x="168.30" y="581.09" width="1.95" height="81.61"/><rect x="170.25" y="597.06" width="1.95" height="65.64"/><rect x="172.20" y="587.08" width="1.95" height="75.62"/><rect x="174.15" y="589.91" width="1.95" height="72.79"/><rect x="176.10" y="604.88" width="1.95" height="57.82"/><rect x="178.05" y="584.92" width="1.95" height="77.78"/><rect x="180.00" y="589.91" width="1.95" height="72.79"/><rect x="181.95" y="581.09" width="1.95" height="81.61"/><rect x="183.90" y="602.88" width="1.95" height="59.82"/><rect x="185.85" y="594.90" width="1.95" height="67.80"/><rect x="187.80" y="598.56" width="1.95" height="64.14"/><rect x="189.75" y="586.25" width="1.95" height="76.45"/><rect x="191.70" y="592.90" width="1.95" height="69.80"/><rect x="193.65" y="589.91" width="1.95" height="72.79"/><rect x="195.60" y="586.25" width="1.95" height="76.45"/><rect x="197.55" y="582.42" width="1.95" height="80.28"/><rect x="199.50" y="587.91" width="1.95" height="74.79"/><rect x="201.45" y="582.42" width="1.95" height="80.28"/><rect x="203.40" y="577.93" width="1.95" height="84.77"/><rect x="205.35" y="578.26" width="1.95" height="84.44"/><rect x="207.30" y="582.42" width="1.95" height="80.28"/><rect x="209.25" y="589.07" width="1.95" height="73.63"/><rect x="211.20" y="578.26" width="1.95" height="84.44"/><rect x="213.15" y="585.75" width="1.95" height="76.95"/><rect x="215.10" y="589.57" width="1.95" height="73.13"/><rect x="217.05" y="561.13" width="1.95" height="101.57"/><rect x="219.00" y="579.10" width="1.95" height="83.60"/><rect x="220.95" y="578.26" width="1.95" height="84.44"/><rect x="222.90" y="566.95" width="1.95" height="95.75"/><rect x="224.85" y="569.95" width="1.95" height="92.75"/><rect x="226.80" y="561.96" width="1.95" height="100.74"/><rect x="228.75" y="571.94" width="1.95" height="90.76"/><rect x="230.70" y="579.10" width="1.95" height="83.60"/><rect x="232.65" y="579.93" width="1.95" height="82.77"/><rect x="234.60" y="567.95" width="1.95" height="94.75"/><rect x="236.55" y="593.57" width="1.95" height="69.13"/><rect x="238.50" y="582.42" width="1.95" height="80.28"/><rect x="240.45" y="565.29" width="1.95" height="97.41"/><rect x="242.40" y="579.10" width="1.95" height="83.60"/><rect x="244.35" y="571.11" width="1.95" height="91.59"/><rect x="246.30" y="586.25" width="1.95" height="76.45"/><rect x="248.25" y="602.88" width="1.95" height="59.82"/><rect x="250.20" y="594.90" width="1.95" height="67.80"/><rect x="252.15" y="591.24" width="1.95" height="71.46"/><rect x="254.10" y="583.25" width="1.95" height="79.45"/><rect x="256.05" y="594.90" width="1.95" height="67.80"/><rect x="258.00" y="589.91" width="1.95" height="72.79"/><rect x="259.95" y="579.93" width="1.95" height="82.77"/><rect x="261.90" y="589.07" width="1.95" height="73.63"/><rect x="263.85" y="576.60" width="1.95" height="86.10"/><rect x="265.80" y="593.23" width="1.95" height="69.47"/><rect x="267.75" y="574.44" width="1.95" height="88.26"/><rect x="269.70" y="594.90" width="1.95" height="67.80"/><rect x="271.65" y="595.73" width="1.95" height="66.97"/><rect x="273.60" y="597.89" width="1.95" height="64.81"/><rect x="275.55" y="582.42" width="1.95" height="80.28"/><rect x="277.50" y="581.09" width="1.95" height="81.61"/><rect x="279.45" y="585.75" width="1.95" height="76.95"/><rect x="281.40" y="593.57" width="1.95" height="69.13"/><rect x="283.35" y="588.24" width="1.95" height="74.46"/><rect x="285.30" y="587.41" width="1.95" height="75.29"/><rect x="287.25" y="585.75" width="1.95" height="76.95"/><rect x="289.20" y="589.91" width="1.95" height="72.79"/><rect x="291.15" y="606.54" width="1.95" height="56.16"/><rect x="293.10" y="567.95" width="1.95" height="94.75"/><rect x="295.05" y="584.09" width="1.95" height="78.61"/><rect x="297.00" y="591.90" width="1.95" height="70.80"/><rect x="298.95" y="589.91" width="1.95" height="72.79"/><rect x="300.90" y="589.57" width="1.95" height="73.13"/><rect x="302.85" y="589.57" width="1.95" height="73.13"/><rect x="304.80" y="608.70" width="1.95" height="54.00"/><rect x="306.75" y="594.90" width="1.95" height="67.80"/><rect x="308.70" y="591.57" width="1.95" height="71.13"/><rect x="310.65" y="594.90" width="1.95" height="67.80"/><rect x="312.60" y="574.44" width="1.95" height="88.26"/><rect x="314.55" y="592.40" width="1.95" height="70.30"/><rect x="316.50" y="584.09" width="1.95" height="78.61"/><rect x="318.45" y="589.91" width="1.95" height="72.79"/><rect x="320.40" y="613.69" width="1.95" height="49.01"/><rect x="322.35" y="588.24" width="1.95" height="74.46"/><rect x="324.30" y="608.20" width="1.95" height="54.50"/><rect x="326.25" y="579.93" width="1.95" height="82.77"/><rect x="328.20" y="616.02" width="1.95" height="46.68"/><rect x="330.15" y="608.20" width="1.95" height="54.50"/><rect x="332.10" y="597.89" width="1.95" height="64.81"/><rect x="334.05" y="596.23" width="1.95" height="66.47"/><rect x="336.00" y="573.27" width="1.95" height="89.43"/><rect x="337.95" y="595.73" width="1.95" height="66.97"/><rect x="339.90" y="588.24" width="1.95" height="74.46"/><rect x="341.85" y="589.91" width="1.95" height="72.79"/><rect x="343.80" y="588.24" width="1.95" height="74.46"/><rect x="345.75" y="596.89" width="1.95" height="65.81"/><rect x="347.70" y="595.23" width="1.95" height="67.47"/><rect x="349.65" y="584.92" width="1.95" height="77.78"/><rect x="351.60" y="600.22" width="1.95" height="62.48"/><rect x="353.55" y="581.92" width="1.95" height="80.78"/><rect x="355.50" y="602.71" width="1.95" height="59.99"/><rect x="357.45" y="596.89" width="1.95" height="65.81"/><rect x="359.40" y="604.88" width="1.95" height="57.82"/><rect x="361.35" y="590.07" width="1.95" height="72.63"/><rect x="363.30" y="596.89" width="1.95" height="65.81"/><rect x="365.25" y="604.04" width="1.95" height="58.66"/><rect x="367.20" y="602.05" width="1.95" height="60.65"/><rect x="369.15" y="617.68" width="1.95" height="45.02"/><rect x="371.10" y="610.03" width="1.95" height="52.67"/><rect x="373.05" y="588.91" width="1.95" height="73.79"/><rect x="375.00" y="621.84" width="1.95" height="40.86"/><rect x="376.95" y="620.84" width="1.95" height="41.86"/><rect x="378.90" y="618.18" width="1.95" height="44.52"/><rect x="380.85" y="612.19" width="1.95" height="50.51"/><rect x="382.80" y="615.02" width="1.95" height="47.68"/><rect x="384.75" y="619.51" width="1.95" height="43.19"/><rect x="386.70" y="621.01" width="1.95" height="41.69"/><rect x="388.65" y="624.33" width="1.95" height="38.37"/><rect x="390.60" y="638.14" width="1.95" height="24.56"/><rect x="392.55" y="637.31" width="1.95" height="25.39"/><rect x="394.50" y="639.80" width="1.95" height="22.90"/><rect x="396.45" y="638.97" width="1.95" height="23.73"/><rect x="398.40" y="635.98" width="1.95" height="26.72"/><rect x="400.35" y="643.96" width="1.95" height="18.74"/><rect x="402.30" y="635.15" width="1.95" height="27.55"/><rect x="404.25" y="639.47" width="1.95" height="23.23"/><rect x="406.20" y="638.47" width="1.95" height="24.23"/><rect x="408.15" y="639.47" width="1.95" height="23.23"/><rect x="410.10" y="643.96" width="1.95" height="18.74"/><rect x="412.05" y="644.79" width="1.95" height="17.91"/><rect x="414.00" y="643.13" width="1.95" height="19.57"/><rect x="415.95" y="644.79" width="1.95" height="17.91"/><rect x="417.90" y="640.63" width="1.95" height="22.07"/><rect x="419.85" y="653.94" width="1.95" height="8.76"/><rect x="421.80" y="648.12" width="1.95" height="14.58"/><rect x="423.75" y="648.12" width="1.95" height="14.58"/><rect x="425.70" y="648.12" width="1.95" height="14.58"/><rect x="427.65" y="652.28" width="1.95" height="10.42"/><rect x="429.60" y="651.11" width="1.95" height="11.59"/><rect x="431.55" y="653.94" width="1.95" height="8.76"/><rect x="433.50" y="646.46" width="1.95" height="16.24"/><rect x="435.45" y="650.11" width="1.95" height="12.59"/><rect x="437.40" y="651.44" width="1.95" height="11.26"/><rect x="439.35" y="648.12" width="1.95" height="14.58"/><rect x="441.30" y="645.96" width="1.95" height="16.74"/><rect x="443.25" y="653.94" width="1.95" height="8.76"/><rect x="445.20" y="650.11" width="1.95" height="12.59"/><rect x="447.15" y="648.12" width="1.95" height="14.58"/><rect x="449.10" y="648.95" width="1.95" height="13.75"/><rect x="451.05" y="653.94" width="1.95" height="8.76"/><rect x="453.00" y="653.94" width="1.95" height="8.76"/><rect x="454.95" y="649.78" width="1.95" height="12.92"/><rect x="456.90" y="653.11" width="1.95" height="9.59"/><rect x="458.85" y="651.11" width="1.95" height="11.59"/><rect x="460.80" y="653.94" width="1.95" height="8.76"/><rect x="462.75" y="652.28" width="1.95" height="10.42"/><rect x="464.70" y="653.11" width="1.95" height="9.59"/><rect x="466.65" y="654.27" width="1.95" height="8.43"/><rect x="468.60" y="657.27" width="1.95" height="5.43"/><rect x="470.55" y="654.77" width="1.95" height="7.93"/><rect x="472.50" y="653.11" width="1.95" height="9.59"/><rect x="474.45" y="656.10" width="1.95" height="6.60"/><rect x="476.40" y="652.28" width="1.95" height="10.42"/><rect x="478.35" y="659.43" width="1.95" height="3.27"/><rect x="480.30" y="654.27" width="1.95" height="8.43"/><rect x="482.25" y="646.12" width="1.95" height="16.58"/><rect x="484.20" y="657.27" width="1.95" height="5.43"/><rect x="486.15" y="658.93" width="1.95" height="3.77"/><rect x="488.10" y="658.10" width="1.95" height="4.60"/><rect x="490.05" y="658.93" width="1.95" height="3.77"/><rect x="492.00" y="653.94" width="1.95" height="8.76"/><rect x="493.95" y="658.93" width="1.95" height="3.77"/><rect x="495.90" y="660.93" width="1.95" height="1.77"/><rect x="497.85" y="659.43" width="1.95" height="3.27"/><rect x="499.80" y="656.43" width="1.95" height="6.27"/><rect x="501.75" y="658.60" width="1.95" height="4.10"/><rect x="503.70" y="659.43" width="1.95" height="3.27"/><rect x="505.65" y="659.76" width="1.95" height="2.94"/><rect x="507.60" y="658.60" width="1.95" height="4.10"/><rect x="509.55" y="660.59" width="1.95" height="2.11"/><rect x="511.50" y="658.10" width="1.95" height="4.60"/><rect x="513.45" y="659.43" width="1.95" height="3.27"/><rect x="515.40" y="661.42" width="1.95" height="1.28"/><rect x="517.35" y="661.92" width="1.95" height="0.78"/><rect x="519.30" y="659.76" width="1.95" height="2.94"/><rect x="521.25" y="658.10" width="1.95" height="4.60"/><rect x="523.20" y="658.93" width="1.95" height="3.77"/><rect x="525.15" y="660.93" width="1.95" height="1.77"/><rect x="527.10" y="660.26" width="1.95" height="2.44"/><rect x="529.05" y="659.43" width="1.95" height="3.27"/><rect x="531.00" y="657.27" width="1.95" height="5.43"/><rect x="532.95" y="658.10" width="1.95" height="4.60"/><rect x="534.90" y="660.09" width="1.95" height="2.61"/><rect x="536.85" y="658.93" width="1.95" height="3.77"/><rect x="538.80" y="654.27" width="1.95" height="8.43"/><rect x="540.75" y="656.77" width="1.95" height="5.93"/><rect x="542.70" y="654.77" width="1.95" height="7.93"/><rect x="544.65" y="652.28" width="1.95" height="10.42"/><rect x="546.60" y="653.11" width="1.95" height="9.59"/><rect x="548.55" y="648.95" width="1.95" height="13.75"/><rect x="550.50" y="650.28" width="1.95" height="12.42"/><rect x="552.45" y="647.29" width="1.95" height="15.41"/><rect x="554.40" y="654.27" width="1.95" height="8.43"/><rect x="556.35" y="653.94" width="1.95" height="8.76"/><rect x="558.30" y="648.95" width="1.95" height="13.75"/><rect x="560.25" y="645.96" width="1.95" height="16.74"/><rect x="562.20" y="643.13" width="1.95" height="19.57"/><rect x="564.15" y="641.13" width="1.95" height="21.57"/><rect x="566.10" y="633.15" width="1.95" height="29.55"/><rect x="568.05" y="627.00" width="1.95" height="35.70"/><rect x="570.00" y="636.98" width="1.95" height="25.72"/><rect x="571.95" y="619.01" width="1.95" height="43.69"/><rect x="573.90" y="608.20" width="1.95" height="54.50"/><rect x="575.85" y="619.01" width="1.95" height="43.69"/><rect x="577.80" y="624.00" width="1.95" height="38.70"/><rect x="579.75" y="638.97" width="1.95" height="23.73"/><rect x="581.70" y="615.69" width="1.95" height="47.01"/><rect x="583.65" y="614.02" width="1.95" height="48.68"/><rect x="585.60" y="617.35" width="1.95" height="45.35"/><rect x="587.55" y="616.52" width="1.95" height="46.18"/><rect x="589.50" y="624.33" width="1.95" height="38.37"/><rect x="591.45" y="596.23" width="1.95" height="66.47"/><rect x="593.40" y="620.34" width="1.95" height="42.36"/><rect x="595.35" y="602.71" width="1.95" height="59.99"/><rect x="597.30" y="614.02" width="1.95" height="48.68"/><rect x="599.25" y="614.85" width="1.95" height="47.85"/><rect x="601.20" y="597.06" width="1.95" height="65.64"/><rect x="603.15" y="609.03" width="1.95" height="53.67"/><rect x="605.10" y="603.21" width="1.95" height="59.49"/><rect x="607.05" y="589.57" width="1.95" height="73.13"/><rect x="609.00" y="590.74" width="1.95" height="71.96"/><rect x="610.95" y="572.94" width="1.95" height="89.76"/><rect x="612.90" y="582.42" width="1.95" height="80.28"/><rect x="614.85" y="589.07" width="1.95" height="73.63"/><rect x="616.80" y="594.90" width="1.95" height="67.80"/><rect x="618.75" y="584.09" width="1.95" height="78.61"/><rect x="620.70" y="589.07" width="1.95" height="73.63"/><rect x="622.65" y="584.09" width="1.95" height="78.61"/><rect x="624.60" y="577.93" width="1.95" height="84.77"/><rect x="626.55" y="579.10" width="1.95" height="83.60"/><rect x="628.50" y="571.11" width="1.95" height="91.59"/><rect x="630.45" y="579.93" width="1.95" height="82.77"/><rect x="632.40" y="568.25" width="1.95" height="94.45"/><rect x="634.35" y="532.00" width="1.95" height="130.70"/><rect x="636.30" y="550.62" width="1.95" height="112.08"/><rect x="638.25" y="531.16" width="1.95" height="131.54"/><rect x="640.20" y="553.12" width="1.95" height="109.58"/><rect x="642.15" y="540.31" width="1.95" height="122.39"/><rect x="644.10" y="546.80" width="1.95" height="115.90"/><rect x="646.05" y="551.79" width="1.95" height="110.91"/><rect x="648.00" y="549.79" width="1.95" height="112.91"/><rect x="649.95" y="551.79" width="1.95" height="110.91"/><rect x="651.90" y="474.12" width="1.95" height="188.58"/><rect x="653.85" y="561.10" width="1.95" height="101.60"/><rect x="655.80" y="565.93" width="1.95" height="96.77"/><rect x="657.75" y="570.08" width="1.95" height="92.62"/><rect x="659.70" y="539.31" width="1.95" height="123.39"/><rect x="661.65" y="530.67" width="1.95" height="132.03"/><rect x="663.60" y="553.95" width="1.95" height="108.75"/><rect x="665.55" y="548.13" width="1.95" height="114.57"/><rect x="667.50" y="536.15" width="1.95" height="126.55"/><rect x="669.45" y="538.15" width="1.95" height="124.55"/><rect x="671.40" y="512.04" width="1.95" height="150.66"/><rect x="673.35" y="544.30" width="1.95" height="118.40"/><rect x="675.30" y="553.12" width="1.95" height="109.58"/><rect x="677.25" y="533.16" width="1.95" height="129.54"/><rect x="679.20" y="530.17" width="1.95" height="132.53"/><rect x="681.15" y="504.89" width="1.95" height="157.81"/><rect x="683.10" y="545.14" width="1.95" height="117.56"/><rect x="685.05" y="549.29" width="1.95" height="113.41"/><rect x="687.00" y="561.10" width="1.95" height="101.60"/><rect x="688.95" y="543.64" width="1.95" height="119.06"/><rect x="690.90" y="526.17" width="1.95" height="136.53"/><rect x="692.85" y="533.99" width="1.95" height="128.71"/><rect x="694.80" y="474.12" width="1.95" height="188.58"/><rect x="696.75" y="513.70" width="1.95" height="149.00"/><rect x="698.70" y="538.15" width="1.95" height="124.55"/><rect x="700.65" y="562.27" width="1.95" height="100.43"/><rect x="702.60" y="525.68" width="1.95" height="137.02"/><rect x="704.55" y="553.12" width="1.95" height="109.58"/><rect x="706.50" y="530.67" width="1.95" height="132.03"/><rect x="708.45" y="531.50" width="1.95" height="131.20"/><rect x="710.40" y="551.46" width="1.95" height="111.24"/><rect x="712.35" y="536.15" width="1.95" height="126.55"/><rect x="714.30" y="591.90" width="1.95" height="70.80"/><rect x="716.25" y="567.26" width="1.95" height="95.44"/><rect x="718.20" y="559.77" width="1.95" height="102.93"/><rect x="720.15" y="571.61" width="1.95" height="91.09"/><rect x="722.10" y="564.76" width="1.95" height="97.94"/><rect x="724.05" y="589.57" width="1.95" height="73.13"/><rect x="726.00" y="577.93" width="1.95" height="84.77"/><rect x="727.95" y="600.72" width="1.95" height="61.98"/><rect x="729.90" y="581.92" width="1.95" height="80.78"/><rect x="731.85" y="562.13" width="1.95" height="100.57"/><rect x="733.80" y="585.75" width="1.95" height="76.95"/><rect x="735.75" y="597.89" width="1.95" height="64.81"/><rect x="737.70" y="586.58" width="1.95" height="76.12"/><rect x="739.65" y="598.56" width="1.95" height="64.14"/><rect x="741.60" y="599.55" width="1.95" height="63.15"/><rect x="743.55" y="609.86" width="1.95" height="52.84"/><rect x="745.50" y="597.39" width="1.95" height="65.31"/><rect x="747.45" y="586.25" width="1.95" height="76.45"/><rect x="749.40" y="577.93" width="1.95" height="84.77"/><rect x="751.35" y="601.88" width="1.95" height="60.82"/><rect x="753.30" y="600.22" width="1.95" height="62.48"/><rect x="755.25" y="607.87" width="1.95" height="54.83"/><rect x="757.20" y="610.70" width="1.95" height="52.00"/><rect x="759.15" y="606.21" width="1.95" height="56.49"/><rect x="761.10" y="610.70" width="1.95" height="52.00"/><rect x="763.05" y="599.05" width="1.95" height="63.65"/><rect x="765.00" y="608.20" width="1.95" height="54.50"/><rect x="766.95" y="596.23" width="1.95" height="66.47"/><rect x="768.90" y="608.20" width="1.95" height="54.50"/><rect x="770.85" y="616.52" width="1.95" height="46.18"/><rect x="772.80" y="622.34" width="1.95" height="40.36"/><rect x="774.75" y="627.66" width="1.95" height="35.04"/><rect x="776.70" y="609.53" width="1.95" height="53.17"/><rect x="778.65" y="624.83" width="1.95" height="37.87"/><rect x="780.60" y="633.15" width="1.95" height="29.55"/><rect x="782.55" y="631.82" width="1.95" height="30.88"/><rect x="784.50" y="629.49" width="1.95" height="33.21"/><rect x="786.45" y="612.36" width="1.95" height="50.34"/><rect x="788.40" y="636.98" width="1.95" height="25.72"/><rect x="790.35" y="638.14" width="1.95" height="24.56"/><rect x="792.30" y="641.13" width="1.95" height="21.57"/><rect x="794.25" y="633.48" width="1.95" height="29.22"/><rect x="796.20" y="641.13" width="1.95" height="21.57"/><rect x="798.15" y="639.47" width="1.95" height="23.23"/><rect x="800.10" y="643.13" width="1.95" height="19.57"/><rect x="802.05" y="632.82" width="1.95" height="29.88"/><rect x="804.00" y="646.79" width="1.95" height="15.91"/><rect x="805.95" y="635.31" width="1.95" height="27.39"/><rect x="807.90" y="647.79" width="1.95" height="14.91"/><rect x="809.85" y="635.31" width="1.95" height="27.39"/><rect x="811.80" y="648.12" width="1.95" height="14.58"/><rect x="813.75" y="644.29" width="1.95" height="18.41"/><rect x="815.70" y="648.95" width="1.95" height="13.75"/><rect x="817.65" y="644.29" width="1.95" height="18.41"/><rect x="819.60" y="645.62" width="1.95" height="17.08"/><rect x="821.55" y="647.79" width="1.95" height="14.91"/><rect x="823.50" y="641.13" width="1.95" height="21.57"/><rect x="825.45" y="642.30" width="1.95" height="20.40"/><rect x="827.40" y="640.14" width="1.95" height="22.56"/><rect x="829.35" y="648.95" width="1.95" height="13.75"/><rect x="831.30" y="646.46" width="1.95" height="16.24"/><rect x="833.25" y="649.78" width="1.95" height="12.92"/><rect x="835.20" y="650.28" width="1.95" height="12.42"/><rect x="837.15" y="650.28" width="1.95" height="12.42"/><rect x="839.10" y="649.45" width="1.95" height="13.25"/><rect x="841.05" y="640.63" width="1.95" height="22.07"/><rect x="843.00" y="644.29" width="1.95" height="18.41"/><rect x="844.95" y="646.46" width="1.95" height="16.24"/><rect x="846.90" y="646.46" width="1.95" height="16.24"/><rect x="848.85" y="652.28" width="1.95" height="10.42"/><rect x="850.80" y="647.29" width="1.95" height="15.41"/><rect x="852.75" y="650.11" width="1.95" height="12.59"/><rect x="854.70" y="646.46" width="1.95" height="16.24"/><rect x="856.65" y="645.96" width="1.95" height="16.74"/><rect x="858.60" y="653.94" width="1.95" height="8.76"/><rect x="860.55" y="644.29" width="1.95" height="18.41"/><rect x="862.50" y="644.29" width="1.95" height="18.41"/><rect x="864.45" y="656.43" width="1.95" height="6.27"/><rect x="866.40" y="643.46" width="1.95" height="19.24"/><rect x="868.35" y="650.11" width="1.95" height="12.59"/><rect x="870.30" y="652.28" width="1.95" height="10.42"/><rect x="872.25" y="653.94" width="1.95" height="8.76"/><rect x="874.20" y="654.77" width="1.95" height="7.93"/><rect x="876.15" y="656.10" width="1.95" height="6.60"/><rect x="878.10" y="655.10" width="1.95" height="7.60"/><rect x="880.05" y="658.93" width="1.95" height="3.77"/><rect x="882.00" y="654.44" width="1.95" height="8.26"/><rect x="883.95" y="657.27" width="1.95" height="5.43"/><rect x="885.90" y="651.44" width="1.95" height="11.26"/><rect x="887.85" y="655.60" width="1.95" height="7.10"/><rect x="889.80" y="659.43" width="1.95" height="3.27"/><rect x="891.75" y="658.43" width="1.95" height="4.27"/><rect x="893.70" y="660.93" width="1.95" height="1.77"/><rect x="895.65" y="653.11" width="1.95" height="9.59"/><rect x="897.60" y="658.10" width="1.95" height="4.60"/><rect x="899.55" y="660.59" width="1.95" height="2.11"/><rect x="901.50" y="653.94" width="1.95" height="8.76"/><rect x="903.45" y="658.43" width="1.95" height="4.27"/><rect x="905.40" y="653.94" width="1.95" height="8.76"/><rect x="907.35" y="659.76" width="1.95" height="2.94"/><rect x="909.30" y="658.93" width="1.95" height="3.77"/><rect x="911.25" y="658.10" width="1.95" height="4.60"/><rect x="913.20" y="659.43" width="1.95" height="3.27"/><rect x="915.15" y="660.09" width="1.95" height="2.61"/><rect x="917.10" y="660.93" width="1.95" height="1.77"/><rect x="919.05" y="659.43" width="1.95" height="3.27"/><rect x="921.00" y="661.09" width="1.95" height="1.61"/><rect x="922.95" y="661.76" width="1.95" height="0.94"/><rect x="924.90" y="661.92" width="1.95" height="0.78"/><rect x="926.85" y="662.09" width="1.95" height="0.61"/><rect x="35.10" y="660.59" width="1.2" height="2.11"/><rect x="56.55" y="658.60" width="1.2" height="4.10"/><rect x="58.50" y="656.77" width="1.2" height="5.93"/><rect x="60.45" y="656.77" width="1.2" height="5.93"/><rect x="62.40" y="654.27" width="1.2" height="8.43"/><rect x="64.35" y="655.60" width="1.2" height="7.10"/><rect x="66.30" y="657.77" width="1.2" height="4.93"/><rect x="68.25" y="657.77" width="1.2" height="4.93"/><rect x="70.20" y="655.10" width="1.2" height="7.60"/><rect x="72.15" y="653.94" width="1.2" height="8.76"/><rect x="93.60" y="658.60" width="1.2" height="4.10"/><rect x="95.55" y="656.77" width="1.2" height="5.93"/><rect x="97.50" y="656.77" width="1.2" height="5.93"/><rect x="99.45" y="653.94" width="1.2" height="8.76"/><rect x="101.40" y="655.10" width="1.2" height="7.60"/><rect x="103.35" y="655.10" width="1.2" height="7.60"/><rect x="105.30" y="654.27" width="1.2" height="8.43"/><rect x="107.25" y="653.94" width="1.2" height="8.76"/><rect x="109.20" y="653.94" width="1.2" height="8.76"/><rect x="111.15" y="653.94" width="1.2" height="8.76"/><rect x="113.10" y="653.94" width="1.2" height="8.76"/><rect x="132.60" y="623.17" width="1.2" height="39.53"/><rect x="134.55" y="609.03" width="1.2" height="53.67"/><rect x="136.50" y="602.71" width="1.2" height="59.99"/><rect x="138.45" y="602.71" width="1.2" height="59.99"/><rect x="140.40" y="606.54" width="1.2" height="56.16"/><rect x="142.35" y="608.70" width="1.2" height="54.00"/><rect x="144.30" y="608.70" width="1.2" height="54.00"/><rect x="146.25" y="599.05" width="1.2" height="63.65"/><rect x="148.20" y="610.36" width="1.2" height="52.34"/><rect x="150.15" y="610.36" width="1.2" height="52.34"/><rect x="171.60" y="597.06" width="1.2" height="65.64"/><rect x="173.55" y="589.91" width="1.2" height="72.79"/><rect x="175.50" y="604.88" width="1.2" height="57.82"/><rect x="177.45" y="604.88" width="1.2" height="57.82"/><rect x="179.40" y="589.91" width="1.2" height="72.79"/><rect x="181.35" y="589.91" width="1.2" height="72.79"/><rect x="183.30" y="602.88" width="1.2" height="59.82"/><rect x="185.25" y="602.88" width="1.2" height="59.82"/><rect x="187.20" y="598.56" width="1.2" height="64.14"/><rect x="189.15" y="598.56" width="1.2" height="64.14"/><rect x="210.60" y="589.07" width="1.2" height="73.63"/><rect x="212.55" y="585.75" width="1.2" height="76.95"/><rect x="214.50" y="589.57" width="1.2" height="73.13"/><rect x="216.45" y="589.57" width="1.2" height="73.13"/><rect x="218.40" y="579.10" width="1.2" height="83.60"/><rect x="220.35" y="579.10" width="1.2" height="83.60"/><rect x="222.30" y="578.26" width="1.2" height="84.44"/><rect x="224.25" y="569.95" width="1.2" height="92.75"/><rect x="226.20" y="569.95" width="1.2" height="92.75"/><rect x="228.15" y="571.94" width="1.2" height="90.76"/><rect x="249.60" y="602.88" width="1.2" height="59.82"/><rect x="251.55" y="594.90" width="1.2" height="67.80"/><rect x="253.50" y="591.24" width="1.2" height="71.46"/><rect x="255.45" y="594.90" width="1.2" height="67.80"/><rect x="257.40" y="594.90" width="1.2" height="67.80"/><rect x="259.35" y="589.91" width="1.2" height="72.79"/><rect x="261.30" y="589.07" width="1.2" height="73.63"/><rect x="263.25" y="589.07" width="1.2" height="73.63"/><rect x="265.20" y="593.23" width="1.2" height="69.47"/><rect x="267.15" y="593.23" width="1.2" height="69.47"/><rect x="288.60" y="589.91" width="1.2" height="72.79"/><rect x="290.55" y="606.54" width="1.2" height="56.16"/><rect x="292.50" y="606.54" width="1.2" height="56.16"/><rect x="294.45" y="584.09" width="1.2" height="78.61"/><rect x="296.40" y="591.90" width="1.2" height="70.80"/><rect x="298.35" y="591.90" width="1.2" height="70.80"/><rect x="300.30" y="589.91" width="1.2" height="72.79"/><rect x="302.25" y="589.57" width="1.2" height="73.13"/><rect x="304.20" y="608.70" width="1.2" height="54.00"/><rect x="306.15" y="608.70" width="1.2" height="54.00"/><rect x="327.60" y="616.02" width="1.2" height="46.68"/><rect x="329.55" y="616.02" width="1.2" height="46.68"/><rect x="331.50" y="608.20" width="1.2" height="54.50"/><rect x="333.45" y="597.89" width="1.2" height="64.81"/><rect x="335.40" y="596.23" width="1.2" height="66.47"/><rect x="337.35" y="595.73" width="1.2" height="66.97"/><rect x="339.30" y="595.73" width="1.2" height="66.97"/><rect x="341.25" y="589.91" width="1.2" height="72.79"/><rect x="343.20" y="589.91" width="1.2" height="72.79"/><rect x="345.15" y="596.89" width="1.2" height="65.81"/><rect x="366.60" y="604.04" width="1.2" height="58.66"/><rect x="368.55" y="617.68" width="1.2" height="45.02"/><rect x="370.50" y="617.68" width="1.2" height="45.02"/><rect x="372.45" y="610.03" width="1.2" height="52.67"/><rect x="374.40" y="621.84" width="1.2" height="40.86"/><rect x="376.35" y="621.84" width="1.2" height="40.86"/><rect x="378.30" y="620.84" width="1.2" height="41.86"/><rect x="380.25" y="618.18" width="1.2" height="44.52"/><rect x="382.20" y="615.02" width="1.2" height="47.68"/><rect x="384.15" y="619.51" width="1.2" height="43.19"/><rect x="405.60" y="639.47" width="1.2" height="23.23"/><rect x="407.55" y="639.47" width="1.2" height="23.23"/><rect x="409.50" y="643.96" width="1.2" height="18.74"/><rect x="411.45" y="644.79" width="1.2" height="17.91"/><rect x="413.40" y="644.79" width="1.2" height="17.91"/><rect x="415.35" y="644.79" width="1.2" height="17.91"/><rect x="417.30" y="644.79" width="1.2" height="17.91"/><rect x="419.25" y="653.94" width="1.2" height="8.76"/><rect x="421.20" y="653.94" width="1.2" height="8.76"/><rect x="423.15" y="648.12" width="1.2" height="14.58"/><rect x="444.60" y="653.94" width="1.2" height="8.76"/><rect x="446.55" y="650.11" width="1.2" height="12.59"/><rect x="448.50" y="648.95" width="1.2" height="13.75"/><rect x="450.45" y="653.94" width="1.2" height="8.76"/><rect x="452.40" y="653.94" width="1.2" height="8.76"/><rect x="454.35" y="653.94" width="1.2" height="8.76"/><rect x="456.30" y="653.11" width="1.2" height="9.59"/><rect x="458.25" y="653.11" width="1.2" height="9.59"/><rect x="460.20" y="653.94" width="1.2" height="8.76"/><rect x="462.15" y="653.94" width="1.2" height="8.76"/><rect x="483.60" y="657.27" width="1.2" height="5.43"/><rect x="485.55" y="658.93" width="1.2" height="3.77"/><rect x="487.50" y="658.93" width="1.2" height="3.77"/><rect x="489.45" y="658.93" width="1.2" height="3.77"/><rect x="491.40" y="658.93" width="1.2" height="3.77"/><rect x="493.35" y="658.93" width="1.2" height="3.77"/><rect x="495.30" y="660.93" width="1.2" height="1.77"/><rect x="497.25" y="660.93" width="1.2" height="1.77"/><rect x="499.20" y="659.43" width="1.2" height="3.27"/><rect x="501.15" y="658.60" width="1.2" height="4.10"/><rect x="524.55" y="660.93" width="1.2" height="1.77"/><rect x="526.50" y="660.93" width="1.2" height="1.77"/><rect x="528.45" y="660.26" width="1.2" height="2.44"/><rect x="530.40" y="659.43" width="1.2" height="3.27"/><rect x="532.35" y="658.10" width="1.2" height="4.60"/><rect x="534.30" y="660.09" width="1.2" height="2.61"/><rect x="536.25" y="660.09" width="1.2" height="2.61"/><rect x="538.20" y="658.93" width="1.2" height="3.77"/><rect x="540.15" y="656.77" width="1.2" height="5.93"/><rect x="542.10" y="656.77" width="1.2" height="5.93"/><rect x="561.60" y="645.96" width="1.2" height="16.74"/><rect x="563.55" y="643.13" width="1.2" height="19.57"/><rect x="565.50" y="641.13" width="1.2" height="21.57"/><rect x="567.45" y="633.15" width="1.2" height="29.55"/><rect x="569.40" y="636.98" width="1.2" height="25.72"/><rect x="571.35" y="636.98" width="1.2" height="25.72"/><rect x="573.30" y="619.01" width="1.2" height="43.69"/><rect x="575.25" y="619.01" width="1.2" height="43.69"/><rect x="577.20" y="624.00" width="1.2" height="38.70"/><rect x="579.15" y="638.97" width="1.2" height="23.73"/><rect x="600.60" y="614.85" width="1.2" height="47.85"/><rect x="602.55" y="609.03" width="1.2" height="53.67"/><rect x="604.50" y="609.03" width="1.2" height="53.67"/><rect x="606.45" y="603.21" width="1.2" height="59.49"/><rect x="608.40" y="590.74" width="1.2" height="71.96"/><rect x="610.35" y="590.74" width="1.2" height="71.96"/><rect x="612.30" y="582.42" width="1.2" height="80.28"/><rect x="614.25" y="589.07" width="1.2" height="73.63"/><rect x="616.20" y="594.90" width="1.2" height="67.80"/><rect x="618.15" y="594.90" width="1.2" height="67.80"/><rect x="639.60" y="553.12" width="1.2" height="109.58"/><rect x="641.55" y="553.12" width="1.2" height="109.58"/><rect x="643.50" y="546.80" width="1.2" height="115.90"/><rect x="645.45" y="551.79" width="1.2" height="110.91"/><rect x="647.40" y="551.79" width="1.2" height="110.91"/><rect x="649.35" y="551.79" width="1.2" height="110.91"/><rect x="651.30" y="551.79" width="1.2" height="110.91"/><rect x="653.25" y="561.10" width="1.2" height="101.60"/><rect x="655.20" y="565.93" width="1.2" height="96.77"/><rect x="657.15" y="570.08" width="1.2" height="92.62"/><rect x="678.60" y="533.16" width="1.2" height="129.54"/><rect x="680.55" y="530.17" width="1.2" height="132.53"/><rect x="682.50" y="545.14" width="1.2" height="117.56"/><rect x="684.45" y="549.29" width="1.2" height="113.41"/><rect x="686.40" y="561.10" width="1.2" height="101.60"/><rect x="688.35" y="561.10" width="1.2" height="101.60"/><rect x="690.30" y="543.64" width="1.2" height="119.06"/><rect x="692.25" y="533.99" width="1.2" height="128.71"/><rect x="694.20" y="533.99" width="1.2" height="128.71"/><rect x="696.15" y="513.70" width="1.2" height="149.00"/><rect x="717.60" y="567.26" width="1.2" height="95.44"/><rect x="719.55" y="571.61" width="1.2" height="91.09"/><rect x="721.50" y="571.61" width="1.2" height="91.09"/><rect x="723.45" y="589.57" width="1.2" height="73.13"/><rect x="725.40" y="589.57" width="1.2" height="73.13"/><rect x="727.35" y="600.72" width="1.2" height="61.98"/><rect x="729.30" y="600.72" width="1.2" height="61.98"/><rect x="731.25" y="581.92" width="1.2" height="80.78"/><rect x="733.20" y="585.75" width="1.2" height="76.95"/><rect x="735.15" y="597.89" width="1.2" height="64.81"/><rect x="756.60" y="610.70" width="1.2" height="52.00"/><rect x="758.55" y="610.70" width="1.2" height="52.00"/><rect x="760.50" y="610.70" width="1.2" height="52.00"/><rect x="762.45" y="610.70" width="1.2" height="52.00"/><rect x="764.40" y="608.20" width="1.2" height="54.50"/><rect x="766.35" y="608.20" width="1.2" height="54.50"/><rect x="768.30" y="608.20" width="1.2" height="54.50"/><rect x="770.25" y="616.52" width="1.2" height="46.18"/><rect x="772.20" y="622.34" width="1.2" height="40.36"/><rect x="774.15" y="627.66" width="1.2" height="35.04"/><rect x="795.60" y="641.13" width="1.2" height="21.57"/><rect x="797.55" y="641.13" width="1.2" height="21.57"/><rect x="799.50" y="643.13" width="1.2" height="19.57"/><rect x="801.45" y="643.13" width="1.2" height="19.57"/><rect x="803.40" y="646.79" width="1.2" height="15.91"/><rect x="805.35" y="646.79" width="1.2" height="15.91"/><rect x="807.30" y="647.79" width="1.2" height="14.91"/><rect x="809.25" y="647.79" width="1.2" height="14.91"/><rect x="811.20" y="648.12" width="1.2" height="14.58"/><rect x="813.15" y="648.12" width="1.2" height="14.58"/><rect x="834.60" y="650.28" width="1.2" height="12.42"/><rect x="836.55" y="650.28" width="1.2" height="12.42"/><rect x="838.50" y="650.28" width="1.2" height="12.42"/><rect x="840.45" y="649.45" width="1.2" height="13.25"/><rect x="842.40" y="644.29" width="1.2" height="18.41"/><rect x="844.35" y="646.46" width="1.2" height="16.24"/><rect x="846.30" y="646.46" width="1.2" height="16.24"/><rect x="848.25" y="652.28" width="1.2" height="10.42"/><rect x="850.20" y="652.28" width="1.2" height="10.42"/><rect x="852.15" y="650.11" width="1.2" height="12.59"/><rect x="873.60" y="654.77" width="1.2" height="7.93"/><rect x="875.55" y="656.10" width="1.2" height="6.60"/><rect x="877.50" y="656.10" width="1.2" height="6.60"/><rect x="879.45" y="658.93" width="1.2" height="3.77"/><rect x="881.40" y="658.93" width="1.2" height="3.77"/><rect x="883.35" y="657.27" width="1.2" height="5.43"/><rect x="885.30" y="657.27" width="1.2" height="5.43"/><rect x="887.25" y="655.60" width="1.2" height="7.10"/><rect x="889.20" y="659.43" width="1.2" height="3.27"/><rect x="891.15" y="659.43" width="1.2" height="3.27"/><rect x="912.60" y="659.43" width="1.2" height="3.27"/><rect x="914.55" y="660.09" width="1.2" height="2.61"/><rect x="916.50" y="660.93" width="1.2" height="1.77"/><rect x="918.45" y="660.93" width="1.2" height="1.77"/><rect x="920.40" y="661.09" width="1.2" height="1.61"/><rect x="922.35" y="661.76" width="1.2" height="0.94"/><rect x="924.30" y="661.92" width="1.2" height="0.78"/><rect x="926.25" y="662.09" width="1.2" height="0.61"/></g>
<line x1="519.2" y1="54.7" x2="519.2" y2="664.2" stroke="#7f7f7f" stroke-width="2.6" stroke-dasharray="10 6.7"/>
<path d="M35.9,683 V668 H931.0 V683 M125.4,668 V683 M214.9,668 V683 M304.4,668 V683 M393.9,668 V683 M483.4,668 V683 M573.0,668 V683 M662.5,668 V683 M752.0,668 V683 M841.5,668 V683" fill="none" stroke="#000" stroke-width="1.9" stroke-linecap="butt" stroke-linejoin="miter"/>
<text x="35.9" y="719.5" text-anchor="middle" class="ax">Mar 20</text>
<text x="214.9" y="719.5" text-anchor="middle" class="ax">May 20</text>
<text x="393.9" y="719.5" text-anchor="middle" class="ax">Aug 20</text>
<text x="573.0" y="719.5" text-anchor="middle" class="ax">Nov 20</text>
<text x="752.0" y="719.5" text-anchor="middle" class="ax">Mar 21</text>
<text x="931.0" y="719.5" text-anchor="middle" class="ax">Jun 21</text>
<rect x="823.1" y="94" width="17.8" height="14.8" fill="#8b0000"/>
<rect x="823.1" y="123" width="17.8" height="14.4" fill="#cccccc"/>
<text x="862" y="109.7" class="ax">Positive</text>
<text x="862" y="138.5" class="ax">Negative</text>
<text x="60.2" y="15.3" textLength="113.0" lengthAdjust="spacingAndGlyphs" class="an">Beginning of</text>
<text x="60.2" y="42.8" textLength="113.0" lengthAdjust="spacingAndGlyphs" class="an">first strategy</text>
<path d="M116.7,54.7 V155" fill="none" stroke="#0433ff" stroke-width="3.6"/>
<path d="M110.2,143.9 L116.7,154.5 L123.2,143.9" fill="none" stroke="#0433ff" stroke-width="4.2" stroke-linecap="round" stroke-linejoin="miter" stroke-miterlimit="10"/>
<text x="227.5" y="15.3" textLength="113.0" lengthAdjust="spacingAndGlyphs" class="an">Beginning of</text>
<text x="213.0" y="42.8" textLength="142.0" lengthAdjust="spacingAndGlyphs" class="an">second strategy</text>
<path d="M284.0,54.7 V155" fill="none" stroke="#0433ff" stroke-width="3.6"/>
<path d="M277.5,143.9 L284.0,154.5 L290.5,143.9" fill="none" stroke="#0433ff" stroke-width="4.2" stroke-linecap="round" stroke-linejoin="miter" stroke-miterlimit="10"/>
</svg>
</body></html>
